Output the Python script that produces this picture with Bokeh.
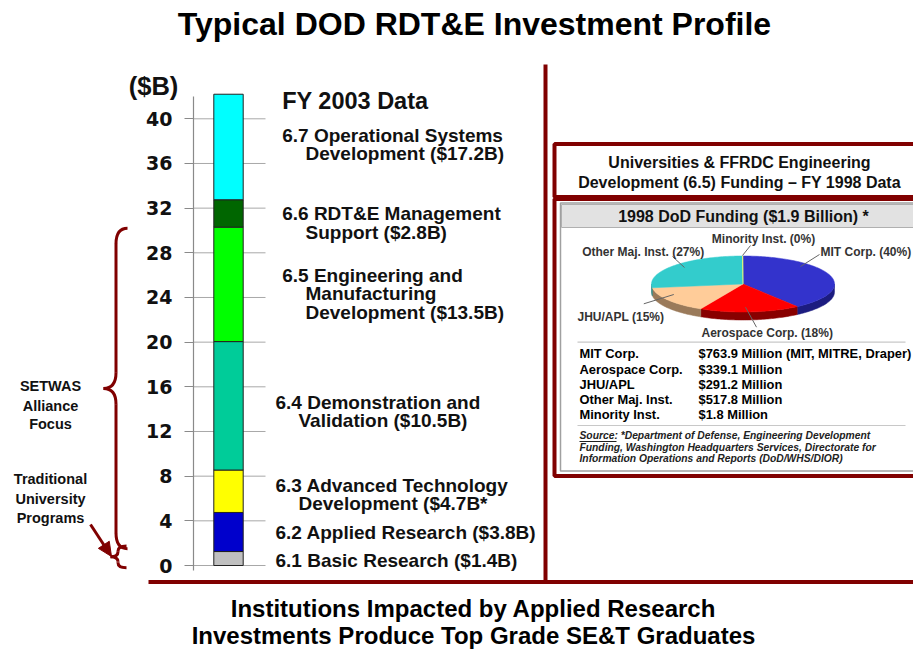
import numpy as np
from bokeh.plotting import figure
from bokeh.models import Range1d, LinearAxis, FixedTicker
from bokeh.core.properties import value
from bokeh.embed import file_html
from bokeh.resources import INLINE

# ---------------- data ----------------
program_codes = ["6.1", "6.2", "6.3", "6.4", "6.5", "6.6", "6.7"]
program_budget_b = [1.4, 3.8, 4.7, 10.5, 13.5, 2.8, 17.2]          # as labelled ($B)
segment_height_b = [1.25, 3.5, 3.8, 11.5, 10.25, 2.45, 9.45]      # as drawn in the bar ($B)
bar_colors = ["#c0c0c0", "#0000cc", "#ffff00", "#00cc99", "#00ff00", "#006600", "#00ffff"]
label_lines = [
    ["6.1 Basic Research ($1.4B)"],
    ["6.2 Applied Research ($3.8B)"],
    ["6.3 Advanced Technology", "Development ($4.7B*"],
    ["6.4 Demonstration and", "Validation ($10.5B)"],
    ["6.5 Engineering and", "Manufacturing", "Development ($13.5B)"],
    ["6.6 RDT&E Management", "Support ($2.8B)"],
    ["6.7 Operational Systems", "Development ($17.2B)"],
]
y_ticks = [0, 4, 8, 12, 16, 20, 24, 28, 32, 36, 40]

inst_names = ["MIT Corp.", "Aerospace Corp.", "JHU/APL", "Other Maj. Inst.", "Minority Inst."]
inst_funding_m = [763.9, 339.1, 291.2, 517.8, 1.8]
inst_notes = [" (MIT, MITRE, Draper)", "", "", "", ""]
pie_labels = ["MIT Corp. (40%)", "Aerospace Corp. (18%)", "JHU/APL (15%)",
              "Other Maj. Inst. (27%)", "Minority Inst. (0%)"]
pie_top_colors = ["#3333cc", "#ff0000", "#ffcc99", "#33cccc", "#ffff66"]
pie_side_colors = ["#1c1c80", "#880000", "#9a7a5a", "#1f8080", "#999940"]

# ---------------- layout constants ----------------
W, H = 913, 650
FRAME_LEFT = 193
PX_PER_B = 11.1675
Y0_PX = 565
DARK_RED = "#800000"
FONT = "Liberation Sans"

p = figure(width=W, height=H, x_range=Range1d(FRAME_LEFT, W),
           y_range=Range1d(-(H - Y0_PX) / PX_PER_B, Y0_PX / PX_PER_B),
           min_border_left=FRAME_LEFT, min_border_right=0, min_border_top=0, min_border_bottom=0,
           toolbar_location=None, output_backend="svg", x_axis_type=None, y_axis_type=None,
           background_fill_color="white", border_fill_color="white", outline_line_color=None)
p.extra_y_ranges = {"px": Range1d(H, 0)}


def txt(xs, ys, texts, size, align="left", style="bold", color="#111111", font=FONT,
        level="glyph", baseline="middle"):
    return p.text(x=xs, y=ys, text=texts, text_font=value(font), text_font_size=f"{size}px",
                  text_font_style=style, text_align=align, text_baseline=baseline,
                  text_color=color, y_range_name="px", level=level)


# ---------------- axis ----------------
ax = LinearAxis(ticker=FixedTicker(ticks=y_ticks), bounds=(-0.45, 42.0))
ax.axis_line_color = "#8a8a8a"
ax.axis_line_width = 1.2
ax.major_tick_line_color = "#8a8a8a"
ax.major_tick_out = 9
ax.major_tick_in = 0
ax.minor_tick_out = 0
ax.minor_tick_in = 0
ax.major_label_text_font = "DejaVu Sans"
ax.major_label_text_font_style = "bold"
ax.major_label_text_font_size = "19px"
ax.major_label_text_color = "#111111"
ax.major_label_standoff = 12
p.add_layout(ax, "left")

# grid stubs
p.segment(x0=FRAME_LEFT, y0=y_ticks, x1=265, y1=y_ticks, line_color="#a8a8a8", line_width=1)

# stacked bar
cum = np.concatenate([[0.0], np.cumsum(segment_height_b)])
p.vbar(x=228, width=29.4, bottom=cum[:-1], top=cum[1:], fill_color=bar_colors,
       line_color="#222222", line_width=1)

# category labels
first_y = [560, 531.7, 485, 401.7, 275, 213.3, 135]
first_x = [275, 275, 275, 275, 281.7, 281.7, 281.7]
cont_x = [298, 298, 298, 298, 305, 305, 305]
LINE_STEP = 18.3
lx, ly, lt = [], [], []
for i, lines in enumerate(label_lines):
    for j, s in enumerate(lines):
        lx.append(first_x[i] if j == 0 else cont_x[i])
        ly.append(first_y[i] + j * LINE_STEP)
        lt.append(s)
txt(lx, ly, lt, 19)
txt([281.7], [100], ["FY 2003 Data"], 23.5)

# title, unit, bottom text
txt([474], [23], ["Typical DOD RDT&E Investment Profile"], 32, align="center", color="#000000", level="overlay")
txt([153], [85], ["($B)"], 25.5, align="center", level="overlay")
txt([473, 473], [608, 635],
    ["Institutions Impacted by Applied Research", "Investments Produce Top Grade SE&T Graduates"],
    24, align="center", color="#000000", level="overlay")

# left side annotations
txt([50, 50, 50], [385.7, 405, 423.3], ["SETWAS", "Alliance", "Focus"], 14.5, align="center", level="overlay")
txt([50, 50, 50], [478.3, 498.3, 517.7], ["Traditional", "University", "Programs"], 14.5,
    align="center", level="overlay")


def brace(x_end, x_mid, x_tip, y_top, y_bot, r, lw):
    yc = (y_top + y_bot) / 2
    p.quadratic(x0=[x_end, x_mid, x_tip, x_mid], y0=[y_top, yc + r, yc, y_bot + r],
                x1=[x_mid, x_tip, x_mid, x_end], y1=[y_top - r, yc, yc - r, y_bot],
                cx=[x_mid, x_mid, x_mid, x_mid], cy=[y_top, yc, yc, y_bot],
                line_color=DARK_RED, line_width=lw, level="overlay")
    p.segment(x0=[x_mid, x_mid], y0=[y_top - r, yc - r], x1=[x_mid, x_mid], y1=[yc + r, y_bot + r],
              line_color=DARK_RED, line_width=lw, level="overlay")


brace(127, 115.5, 103, cum[5] - 0.1, cum[1] + 0.25, 1.4, 3)
brace(126, 117.5, 110, cum[1] + 0.5, -0.2, 0.45, 3)

# arrow towards the small brace (drawn as a line + filled head)
AX0, AY0, AX1, AY1 = 90.0, 524.0, 111.0, 556.0
d = np.array([AX1 - AX0, AY1 - AY0])
d = d / np.hypot(*d)
nrm = np.array([-d[1], d[0]])
HEAD_L, HEAD_W = 14.0, 6.5
base = np.array([AX1, AY1]) - HEAD_L * d
p.segment(x0=AX0, y0=AY0, x1=base[0] + 2 * d[0], y1=base[1] + 2 * d[1], line_color=DARK_RED,
          line_width=3, y_range_name="px", level="overlay")
p.patch(x=[AX1, base[0] + HEAD_W * nrm[0], base[0] - HEAD_W * nrm[0]],
        y=[AY1, base[1] + HEAD_W * nrm[1], base[1] - HEAD_W * nrm[1]],
        fill_color=DARK_RED, line_color=DARK_RED, y_range_name="px", level="overlay")

# dividers
p.segment(x0=545, y0=64, x1=545, y1=583, line_color=DARK_RED, line_width=4, y_range_name="px")
p.segment(x0=148, y0=581.5, x1=W, y1=581.5, line_color=DARK_RED, line_width=4,
          y_range_name="px", level="overlay")

# ---------------- inset ----------------
p.quad(left=554, right=930, top=143.5, bottom=196.5, fill_color="white", line_color=DARK_RED,
       line_width=4, y_range_name="px")
p.quad(left=554, right=930, top=198.5, bottom=475.5, fill_color="white", line_color=DARK_RED,
       line_width=4, y_range_name="px")
p.quad(left=560, right=930, top=202.5, bottom=470.5, fill_color="white", line_color="#a0a0a0",
       line_width=1.5, y_range_name="px")
p.quad(left=561, right=930, top=204, bottom=227, fill_color="#e2e2e2", line_color="#b0b0b0",
       line_width=1, y_range_name="px")
txt([739, 739], [161.7, 181.7], ["Universities & FFRDC Engineering",
                                 "Development (6.5) Funding \u2013 FY 1998 Data"], 16, align="center")
txt([743], [216], ["1998 DoD Funding ($1.9 Billion) *"], 16, align="center")

# 3D pie
CX, CY, RX, RY, DEPTH = 742.5, 283.5, 91.5, 28.0, 8.0
fr = np.array(inst_funding_m) / np.sum(inst_funding_m)
edges = np.concatenate([[0.0], np.cumsum(fr)]) * 2 * np.pi
side_xs, side_ys, side_cols = [], [], []
top_xs, top_ys = [], []
for i in range(len(fr)):
    a0, a1 = edges[i], edges[i + 1]
    t = np.linspace(a0, a1, max(3, int((a1 - a0) / 0.02) + 2))
    top_xs.append(np.concatenate([[CX], CX + RX * np.sin(t)]).tolist())
    top_ys.append(np.concatenate([[CY], CY - RY * np.cos(t)]).tolist())
    lo, hi = max(a0, np.pi / 2), min(a1, 1.5 * np.pi)
    if hi > lo:
        ts = np.linspace(lo, hi, max(3, int((hi - lo) / 0.02) + 2))
        sx = CX + RX * np.sin(ts)
        sy = CY - RY * np.cos(ts)
        side_xs.append(np.concatenate([sx, sx[::-1]]).tolist())
        side_ys.append(np.concatenate([sy, sy[::-1] + DEPTH]).tolist())
        side_cols.append(pie_side_colors[i])
p.patches(side_xs, side_ys, fill_color=side_cols, line_color=side_cols, line_width=0.5, y_range_name="px")
p.patches(top_xs, top_ys, fill_color=pie_top_colors, line_color=pie_top_colors, line_width=0.5,
          y_range_name="px")

# pie labels + leaders (order: MIT, Aerospace, JHU, Other, Minority)
p.segment(x0=[800, 745, 673.3, 684, 742], y0=[266, 306.7, 294, 267, 255],
          x1=[819, 756, 643.3, 672, 750], y1=[254, 326.7, 303.3, 256, 245],
          line_color="#666666", line_width=1, y_range_name="px")
PIE_FS = 12
txt([820], [251], [pie_labels[0]], PIE_FS, align="left", color="#333333")
txt([766.7], [332.7], [pie_labels[1]], PIE_FS, align="center", color="#333333")
txt([577], [316], [pie_labels[2]], PIE_FS, align="left", color="#333333")
txt([642.7], [251], [pie_labels[3]], PIE_FS, align="center", color="#333333")
txt([763], [238.3], [pie_labels[4]], PIE_FS, align="center", color="#333333")

# table
p.segment(x0=[577, 577], y0=[341.7, 425], x1=[905, 905], y1=[341.7, 425],
          line_color="#c8c8c8", line_width=1.2, y_range_name="px")
row_y = [353.3 + 15.25 * k for k in range(len(inst_names))]
txt([579] * len(inst_names), row_y, inst_names, 12.9, color="#000000")
txt([698] * len(inst_names), row_y,
    [f"${v:.1f} Million{n}" for v, n in zip(inst_funding_m, inst_notes)], 12.9, color="#000000")
txt([579, 579, 579], [435, 446.5, 458.3],
    ["Source: *Department of Defense, Engineering Development",
     "Funding, Washington Headquarters Services, Directorate for",
     "Information Operations and Reports (DoD/WHS/DIOR)"], 10.3, style="bold italic", color="#222222")
p.segment(x0=579, y0=441, x1=616, y1=441, line_color="#222222", line_width=1, y_range_name="px")

open("out.html", "w").write(file_html(p, INLINE))
